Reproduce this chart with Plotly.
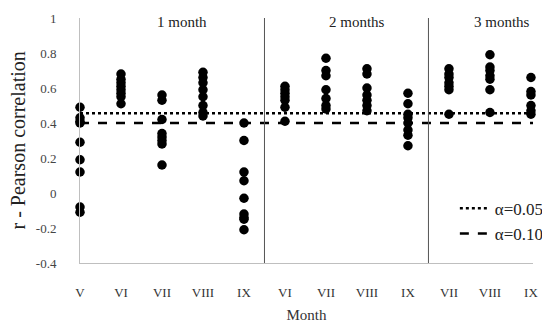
import plotly.graph_objects as go

month_labels = ["V", "VI", "VII", "VIII", "IX", "VI", "VII", "VIII", "IX", "VII", "VIII", "IX"]
group_names = ["1 month", "2 months", "3 months"]
group_sizes = [5, 4, 3]
group_label_pos = [2.5, 6.75, 10.3]

r_1m_V = [0.49, 0.43, 0.41, 0.40, 0.29, 0.19, 0.12, -0.08, -0.11]
r_1m_VI = [0.68, 0.65, 0.63, 0.61, 0.59, 0.57, 0.55, 0.51]
r_1m_VII = [0.56, 0.53, 0.42, 0.34, 0.32, 0.30, 0.28, 0.16]
r_1m_VIII = [0.69, 0.66, 0.63, 0.59, 0.55, 0.50, 0.46, 0.44]
r_1m_IX = [0.40, 0.30, 0.12, 0.07, -0.03, -0.12, -0.14, -0.15, -0.21]
r_2m_VI = [0.61, 0.59, 0.57, 0.55, 0.53, 0.49, 0.41]
r_2m_VII = [0.77, 0.70, 0.67, 0.59, 0.54, 0.50, 0.48]
r_2m_VIII = [0.71, 0.68, 0.60, 0.56, 0.53, 0.50, 0.47]
r_2m_IX = [0.57, 0.51, 0.45, 0.43, 0.40, 0.36, 0.33, 0.27]
r_3m_VII = [0.71, 0.68, 0.66, 0.63, 0.61, 0.59, 0.45]
r_3m_VIII = [0.79, 0.72, 0.70, 0.67, 0.65, 0.59, 0.46]
r_3m_IX = [0.66, 0.58, 0.56, 0.50, 0.47, 0.45]

series = [r_1m_V, r_1m_VI, r_1m_VII, r_1m_VIII, r_1m_IX,
          r_2m_VI, r_2m_VII, r_2m_VIII, r_2m_IX,
          r_3m_VII, r_3m_VIII, r_3m_IX]

alpha_labels = ["α=0.05", "α=0.10"]
alpha_values = [0.456, 0.40]
alpha_dash = ["dot", "dash"]

y_ticks = [-0.4, -0.2, 0, 0.2, 0.4, 0.6, 0.8, 1]
y_tick_text = ["-0.4", "-0.2", "0", "0.2", "0.4", "0.6", "0.8", "1"]

FONT = "Liberation Serif"
xmax = len(month_labels) - 1 + 0.05

xs, ys = [], []
for i, vals in enumerate(series):
    xs += [i] * len(vals)
    ys += vals

fig = go.Figure()
fig.add_trace(go.Scatter(x=xs, y=ys, mode="markers", showlegend=False,
                         marker=dict(color="black", size=9.5), cliponaxis=False))

for lab, val, d in zip(alpha_labels, alpha_values, alpha_dash):
    fig.add_trace(go.Scatter(x=[0, xmax], y=[val, val], mode="lines", name=lab,
                             line=dict(color="black", width=2.5, dash=d)))

# group separators
b = 0
for s in group_sizes[:-1]:
    b += s
    fig.add_shape(type="line", x0=b - 0.5, x1=b - 0.5, y0=-0.4, y1=1,
                  xref="x", yref="y", line=dict(color="#555555", width=1))

for name, pos in zip(group_names, group_label_pos):
    fig.add_annotation(x=pos, y=0.975, text=name, showarrow=False,
                       font=dict(family=FONT, size=15, color="#222222"))

# y-axis title placed as rotated annotation
fig.add_annotation(xref="paper", yref="paper", x=0, y=0.5, xanchor="center", yanchor="middle",
                   xshift=-63, textangle=-90, text="r - Pearson correlation", showarrow=False,
                   font=dict(family=FONT, size=20, color="#222222"))

fig.update_layout(
    width=542, height=315,
    margin=dict(l=72, r=17, t=10, b=60, autoexpand=False),
    plot_bgcolor="white", paper_bgcolor="white",
    font=dict(family=FONT, color="#333333"),
    legend=dict(x=1.035, y=0.295, xanchor="right", yanchor="top",
                bgcolor="rgba(0,0,0,0)", font=dict(family=FONT, size=17, color="#222222"),
                tracegroupgap=0, itemwidth=30),
    xaxis=dict(range=[0, xmax], tickmode="array", tickvals=list(range(len(month_labels))),
               ticktext=month_labels, showgrid=False, zeroline=False, automargin=False,
               showline=True, linecolor="#bfbfbf", linewidth=1, ticks="", ticklabelstandoff=17,
               tickfont=dict(family=FONT, size=13, color="#333333"),
               title=dict(text="Month", font=dict(family=FONT, size=15, color="#333333"), standoff=17)),
    yaxis=dict(range=[-0.4, 1], tickmode="array", tickvals=y_ticks, ticktext=y_tick_text,
               showgrid=False, zeroline=False, showline=True, linecolor="#bfbfbf",
               linewidth=1, ticks="", ticklabelstandoff=20, automargin=False,
               tickfont=dict(family=FONT, size=13, color="#444444")),
)

fig.write_html("out.html")
